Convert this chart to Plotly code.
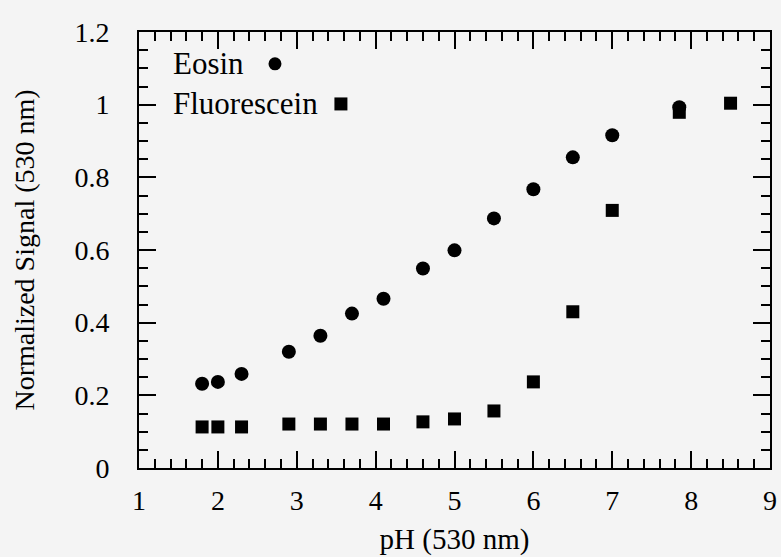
import plotly.graph_objects as go

ph_eosin = [1.8, 2.0, 2.3, 2.9, 3.3, 3.7, 4.1, 4.6, 5.0, 5.5, 6.0, 6.5, 7.0, 7.85]
sig_eosin = [0.232, 0.237, 0.259, 0.320, 0.364, 0.425, 0.466, 0.549, 0.599, 0.687, 0.767, 0.855, 0.916, 0.993]

ph_fluor = [1.8, 2.0, 2.3, 2.9, 3.3, 3.7, 4.1, 4.6, 5.0, 5.5, 6.0, 6.5, 7.0, 7.85, 8.5]
sig_fluor = [0.113, 0.113, 0.113, 0.121, 0.121, 0.121, 0.121, 0.127, 0.135, 0.157, 0.237, 0.430, 0.709, 0.979, 1.004]

series_names = ["Eosin", "Fluorescein"]
x_ticks = [1, 2, 3, 4, 5, 6, 7, 8, 9]
y_ticks = [0, 0.2, 0.4, 0.6, 0.8, 1, 1.2]
y_tick_labels = ["0", "0.2", "0.4", "0.6", "0.8", "1", "1.2"]

FONT = "Liberation Serif, Times New Roman, serif"
BG = "#f4f4f4"

fig = go.Figure()
fig.add_trace(go.Scatter(x=ph_eosin, y=sig_eosin, mode="markers", name=series_names[0],
                         marker=dict(symbol="circle", size=14, color="black"), showlegend=False))
fig.add_trace(go.Scatter(x=ph_fluor, y=sig_fluor, mode="markers", name=series_names[1],
                         marker=dict(symbol="square", size=13, color="black"), showlegend=False))

axis_common = dict(
    showline=True, linecolor="black", linewidth=2, mirror="allticks",
    ticks="inside", ticklen=17, tickwidth=2, tickcolor="black",
    showgrid=False, zeroline=False, automargin=False,
    tickfont=dict(family=FONT, size=28, color="black"),
)

fig.update_xaxes(range=[1, 9], tickvals=x_ticks, ticklabelstandoff=6,
                 minor=dict(dtick=0.2, ticks="inside", ticklen=9, tickwidth=2, tickcolor="black"),
                 title=dict(text="pH (530 nm)", font=dict(family=FONT, size=29, color="black"), standoff=14),
                 **axis_common)
fig.update_yaxes(range=[0, 1.2], tickvals=y_ticks, ticktext=y_tick_labels, ticklabelstandoff=22,
                 minor=dict(dtick=0.05, ticks="inside", ticklen=9, tickwidth=2, tickcolor="black"),
                 title=dict(text="Normalized Signal (530 nm)", font=dict(family=FONT, size=28, color="black"), standoff=32),
                 **axis_common)

# custom legend: text then marker
legend_rows = [(series_names[0], 0.927, "circle", 0.2155), (series_names[1], 0.835, "square", 0.320)]
for name, yy, sym, mx in legend_rows:
    fig.add_annotation(text=name, xref="paper", yref="paper", x=0.050, y=yy,
                       xanchor="left", yanchor="middle", showarrow=False,
                       font=dict(family=FONT, size=31, color="black"))
    shape_type = "circle" if sym == "circle" else "rect"
    fig.add_shape(type=shape_type, xref="paper", yref="paper",
                  xsizemode="pixel", ysizemode="pixel", xanchor=mx, yanchor=yy,
                  x0=-6.5, x1=6.5, y0=-6.5, y1=6.5,
                  fillcolor="black", line=dict(color="black", width=0))

fig.update_layout(
    width=781, height=557,
    margin=dict(l=139, r=11, t=32, b=89),
    paper_bgcolor=BG, plot_bgcolor=BG,
    font=dict(family=FONT, color="black"),
)

fig.write_html("out.html")
